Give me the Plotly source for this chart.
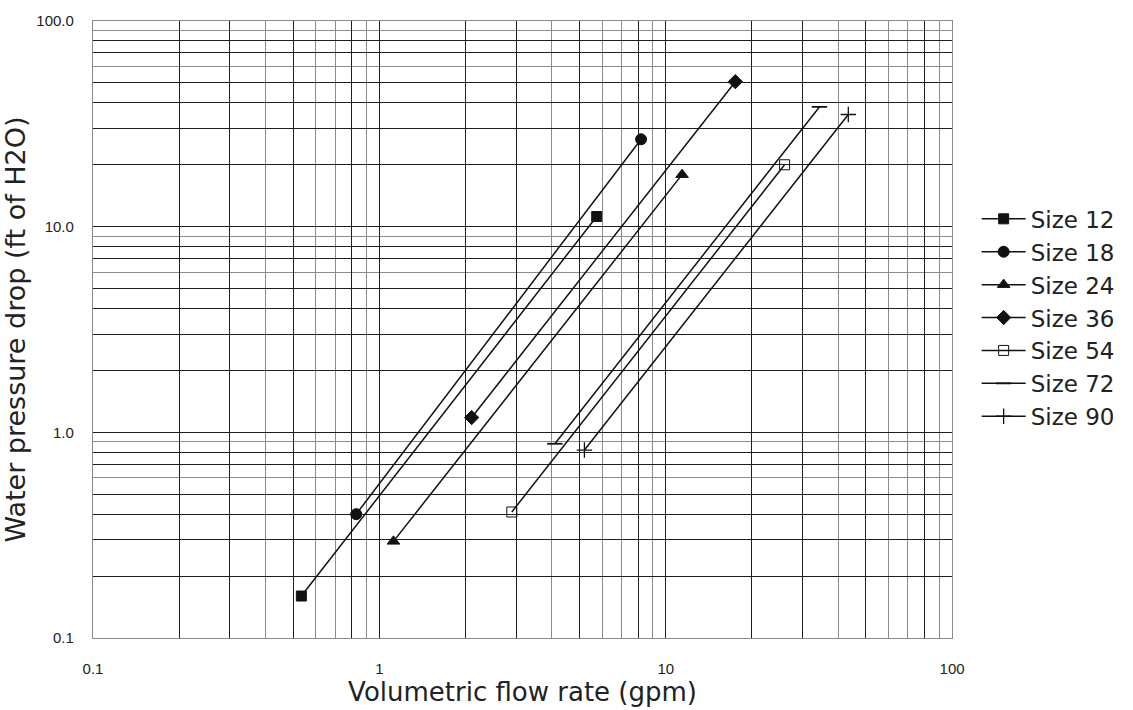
import plotly.graph_objects as go

series_names = ["Size 12", "Size 18", "Size 24", "Size 36", "Size 54", "Size 72", "Size 90"]
flow_gpm = [
    [0.534, 5.74],
    [0.83, 8.2],
    [1.12, 11.4],
    [2.1, 17.5],
    [2.9, 26.0],
    [4.1, 34.4],
    [5.2, 43.4],
]
pressure_ft = [
    [0.16, 11.2],
    [0.40, 26.6],
    [0.295, 17.9],
    [1.18, 50.7],
    [0.41, 20.0],
    [0.88, 38.2],
    [0.82, 35.1],
]
symbols = ["square", "circle", "triangle-up", "diamond", "square-open", "line-ew", "cross-thin"]
marker_sizes = [10, 11, 11, 11, 10, 11, 11]

x_major = [0.1, 0.2, 0.3, 0.5, 0.8, 1, 2, 3, 5, 8, 10, 20, 30, 50, 80, 100]
x_minor = [0.4, 0.6, 0.7, 0.9, 4, 6, 7, 9, 40, 60, 70, 90]
x_labels = {0.1: "0.1", 1: "1", 10: "10", 100: "100"}
y_major = [0.1, 0.2, 0.3, 0.4, 0.5, 0.7, 0.8, 1, 2, 3, 4, 5, 7, 8, 10, 20, 30, 40, 50, 70, 80, 100]
y_minor = [0.6, 0.9, 6, 9, 60, 90]
y_labels = {0.1: "0.1", 1: "1.0", 10: "10.0", 100: "100.0"}

fig = go.Figure()
for name, xs, ys, sym, ms in zip(series_names, flow_gpm, pressure_ft, symbols, marker_sizes):
    fig.add_trace(go.Scatter(
        x=xs, y=ys, name=name, mode="lines+markers",
        line=dict(color="#111111", width=1.5),
        marker=dict(symbol=sym, size=ms, color="#111111",
                    line=dict(color="#111111", width=1.8 if sym == "line-ew" else (1.3 if sym == "cross-thin" else 1))),
    ))

tick_font = dict(family="Liberation Sans, Arial, sans-serif", size=15, color="#222222")
big_font = "DejaVu Sans, Verdana, sans-serif"

fig.update_xaxes(
    type="log", range=[-1, 2],
    tickmode="array", tickvals=x_major,
    ticktext=[x_labels.get(v, "") for v in x_major],
    showgrid=True, gridcolor="#1e1e1e", gridwidth=1.3,
    minor=dict(tickmode="array", tickvals=x_minor, showgrid=True, gridcolor="#8c8c8c", gridwidth=1.3, ticks=""),
    showline=True, linecolor="#8a8a8a", linewidth=1.3, mirror=True,
    ticks="", ticklabelstandoff=17, tickfont=tick_font, zeroline=False,
    title=dict(text="Volumetric flow rate (gpm)", font=dict(family=big_font, size=26, color="#222222"), standoff=2),
)
fig.update_yaxes(
    type="log", range=[-1, 2],
    tickmode="array", tickvals=y_major,
    ticktext=[y_labels.get(v, "") for v in y_major],
    showgrid=True, gridcolor="#1e1e1e", gridwidth=1.3,
    minor=dict(tickmode="array", tickvals=y_minor, showgrid=True, gridcolor="#8c8c8c", gridwidth=1.3, ticks=""),
    showline=True, linecolor="#8a8a8a", linewidth=1.3, mirror=True,
    ticks="", ticklabelstandoff=15, tickfont=tick_font, zeroline=False,
    title=dict(text="Water pressure drop (ft of H2O)", font=dict(family=big_font, size=27, color="#222222"), standoff=4),
)

fig.update_layout(
    width=1133, height=710,
    margin=dict(l=93, r=178, t=17, b=72),
    plot_bgcolor="white", paper_bgcolor="white",
    showlegend=True,
    legend=dict(
        xref="container", yref="container", x=0.862, y=0.722, xanchor="left", yanchor="top",
        font=dict(family=big_font, size=23, color="#222222"),
        bgcolor="rgba(0,0,0,0)", itemwidth=44, tracegroupgap=0,
    ),
)

fig.write_html("out.html")
